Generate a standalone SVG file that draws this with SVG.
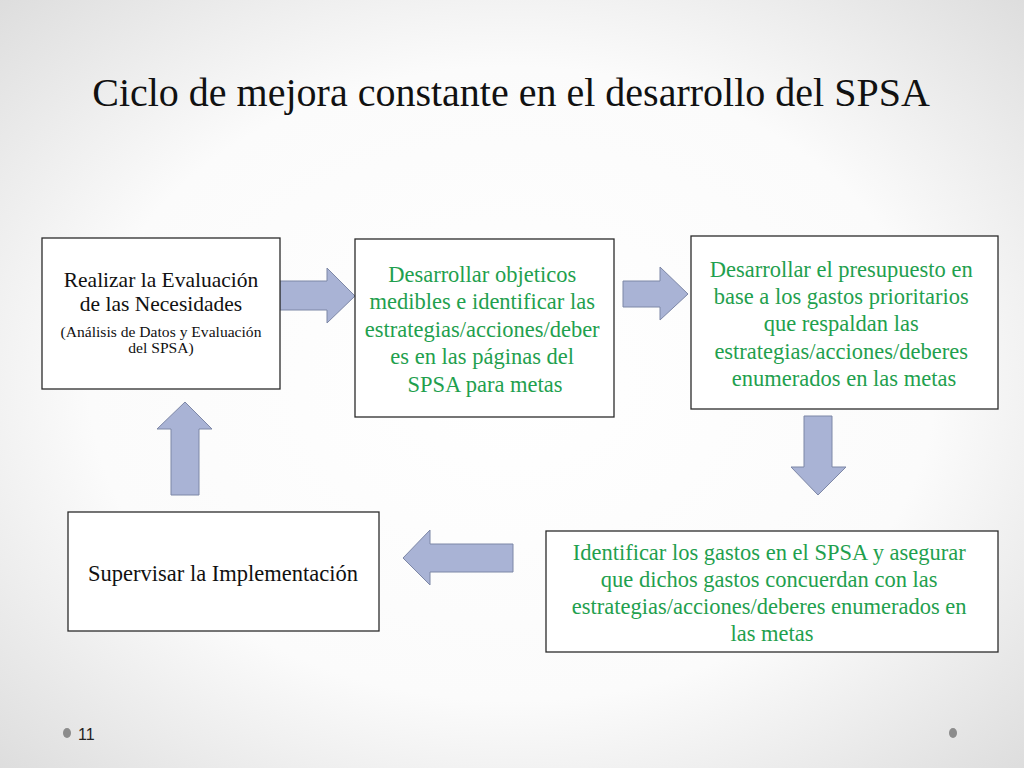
<svg xmlns="http://www.w3.org/2000/svg" width="1024" height="768" viewBox="0 0 1024 768">
<defs>
<radialGradient id="bg" cx="50%" cy="50%" r="75%">
<stop offset="0" stop-color="#ffffff"/>
<stop offset="0.55" stop-color="#fbfbfb"/>
<stop offset="1" stop-color="#d9d9d9"/>
</radialGradient>
<style>
.box{fill:#ffffff;stroke:#2b2b2b;stroke-width:1.3}
.arr{fill:#a9b3d5;stroke:#7d87a6;stroke-width:1}
.t{font-family:"Liberation Serif","Times New Roman",serif;text-anchor:middle}
.blk{fill:#111111}
.grn{fill:#1fa04e}
.dot{fill:#8c8c8c}
</style>
</defs>
<rect width="1024" height="768" fill="url(#bg)"/>
<text class="t blk" x="511" y="106" font-size="40">Ciclo de mejora constante en el desarrollo del SPSA</text>

<g id="connectors">
<polygon class="arr" points="280,281 327,281 327,268 355,296 327,323 327,310 280,310"/>
<polygon class="arr" points="623,281 660,281 660,267 688,294 660,320 660,307 623,307"/>
<polygon class="arr" points="804,416 832,416 832,467 846,467 818,495 791,467 804,467"/>
<polygon class="arr" points="513,544 430,544 430,530 403,558 430,585 430,572 513,572"/>
<polygon class="arr" points="171,495 171,429 157,429 185,402 212,429 199,429 199,495"/>
</g>

<g id="node-evaluacion">
<rect class="box" x="42" y="238" width="238" height="151"/>
<text class="t blk" x="161" y="287" font-size="21.5">Realizar la Evaluación</text>
<text class="t blk" x="161" y="311" font-size="21.5">de las Necesidades</text>
<text class="t blk" x="161" y="337" font-size="15.6">(Análisis de Datos y Evaluación</text>
<text class="t blk" x="161" y="353" font-size="15.6">del SPSA)</text>
</g>

<g id="node-objetivos">
<rect class="box" x="355" y="239" width="259" height="178"/>
<text class="t grn" font-size="22.5">
<tspan x="485" y="282">Desarrollar objeticos</tspan>
<tspan x="485" y="309">medibles e identificar las</tspan>
<tspan x="485" y="337">estrategias/acciones/deber</tspan>
<tspan x="485" y="364">es en las páginas  del</tspan>
<tspan x="485" y="392">SPSA para metas</tspan>
</text>
</g>

<g id="node-presupuesto">
<rect class="box" x="691" y="236" width="307" height="173"/>
<text class="t grn" font-size="22.5">
<tspan x="844" y="277">Desarrollar el presupuesto en</tspan>
<tspan x="844" y="304">base a los gastos prioritarios</tspan>
<tspan x="844" y="331">que respaldan las</tspan>
<tspan x="844" y="359">estrategias/acciones/deberes</tspan>
<tspan x="844" y="386">enumerados en las metas</tspan>
</text>
</g>

<g id="node-gastos">
<rect class="box" x="546" y="531" width="452" height="121"/>
<text class="t grn" font-size="22.5">
<tspan x="772" y="560">Identificar los gastos en el SPSA y asegurar</tspan>
<tspan x="772" y="587">que dichos gastos concuerdan con las</tspan>
<tspan x="772" y="614">estrategias/acciones/deberes enumerados en</tspan>
<tspan x="772" y="641">las metas</tspan>
</text>
</g>

<g id="node-supervisar">
<rect class="box" x="68" y="512" width="311" height="119"/>
<text class="t blk" x="223" y="581" font-size="22.5">Supervisar la Implementación</text>
</g>

<ellipse class="dot" cx="67" cy="733" rx="4" ry="5"/>
<text x="78" y="740" font-family="Liberation Sans Narrow,Liberation Sans,Arial,sans-serif" font-size="16" fill="#222">11</text>
<ellipse class="dot" cx="953" cy="733" rx="4" ry="5"/>
</svg>
